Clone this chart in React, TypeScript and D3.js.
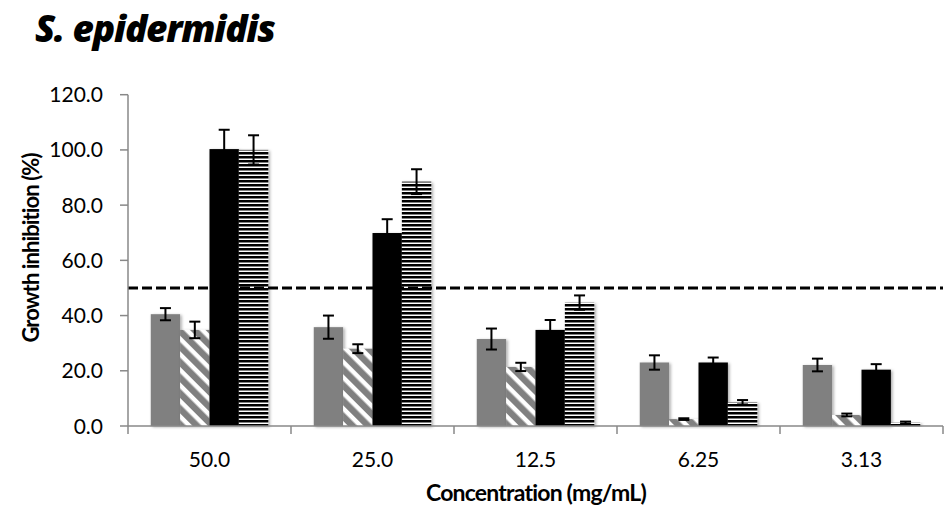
import React from "react";
import * as d3 from "d3";

const categories = ["50.0", "25.0", "12.5", "6.25", "3.13"];
const seriesKeys = ["gray", "diag", "black", "horiz"];
const grayVals = [40.5, 35.8, 31.5, 23.0, 22.1];
const grayErr = [2.2, 4.2, 3.8, 2.6, 2.3];
const diagVals = [34.8, 28.0, 21.4, 2.5, 4.0];
const diagErr = [3.0, 1.6, 1.5, 0.3, 0.5];
const blackVals = [100.3, 69.9, 34.8, 23.0, 20.4];
const blackErr = [7.0, 5.0, 3.6, 1.8, 2.0];
const horizVals = [100.0, 88.5, 44.7, 8.6, 1.2];
const horizErr = [5.3, 4.5, 2.6, 0.8, 0.4];
const yTicks = [0, 20, 40, 60, 80, 100, 120];
const threshold = 50;

const W = 947;
const H = 509;
const left = 128;
const right = 943;
const top = 94.7;
const bottom = 426;

export default function App() {
  const x = d3.scaleBand().domain(categories).range([left, right]).padding(0);
  const xi = d3
    .scaleBand()
    .domain(seriesKeys)
    .range([0, x.bandwidth()])
    .paddingInner(0)
    .paddingOuter(0.775);
  const y = d3.scaleLinear().domain([0, 120]).range([bottom, top]);
  const vals = [grayVals, diagVals, blackVals, horizVals];
  const errs = [grayErr, diagErr, blackErr, horizErr];
  const fills = ["#808080", "url(#diag)", "#000000", "url(#horiz)"];
  const axisColor = "#888888";
  const font = "Lato, 'Open Sans', sans-serif";

  return (
    <svg width={W} height={H} style={{ position: "absolute", left: 0, top: 0, background: "#fff" }}>
      <defs>
        <pattern id="diag" patternUnits="userSpaceOnUse" width="11" height="11" patternTransform="rotate(-45)">
          <rect x="0" y="0" width="11" height="11" fill="#ffffff" />
          <rect x="0" y="0" width="6.5" height="11" fill="#808080" />
        </pattern>
        <pattern id="horiz" patternUnits="userSpaceOnUse" width="4" height="4">
          <rect x="0" y="0" width="4" height="4" fill="#ffffff" />
          <rect x="0" y="0" width="4" height="2.5" fill="#000000" />
        </pattern>
        <filter id="shadow" x="-20%" y="-20%" width="150%" height="150%">
          <feDropShadow dx="1.5" dy="1" stdDeviation="1.5" floodColor="#000" floodOpacity="0.35" />
        </filter>
      </defs>
      <text
        x={35}
        y={42}
        fontFamily="'Open Sans', Lato, sans-serif"
        fontWeight={800}
        fontStyle="italic"
        fontSize={37}
        letterSpacing={-1.2}
        fill="#000"
      >
        S. epidermidis
      </text>

      {/* bars */}
      {categories.map((c, ci) =>
        seriesKeys.map((k, si) => {
          const v = vals[si][ci];
          const bx = (x(c) as number) + (xi(k) as number);
          return (
            <rect
              key={c + k}
              x={bx}
              y={y(v)}
              width={xi.bandwidth()}
              height={bottom - y(v)}
              fill={fills[si]}
              filter="url(#shadow)"
            />
          );
        })
      )}

      {/* threshold line */}
      <line
        x1={left}
        x2={right}
        y1={y(threshold)}
        y2={y(threshold)}
        stroke="#000"
        strokeWidth={3}
        strokeDasharray="10 4"
      />

      {/* error bars */}
      {categories.map((c, ci) =>
        seriesKeys.map((k, si) => {
          const v = vals[si][ci];
          const e = errs[si][ci];
          const cx = (x(c) as number) + (xi(k) as number) + xi.bandwidth() / 2;
          return (
            <g key={"e" + c + k} stroke="#000" strokeWidth={2}>
              <line x1={cx} x2={cx} y1={y(v + e)} y2={y(v - e)} />
              <line x1={cx - 5.5} x2={cx + 5.5} y1={y(v + e)} y2={y(v + e)} />
              <line x1={cx - 5.5} x2={cx + 5.5} y1={y(v - e)} y2={y(v - e)} />
            </g>
          );
        })
      )}

      {/* axes */}
      <line x1={left} x2={left} y1={top} y2={bottom} stroke={axisColor} strokeWidth={1.5} />
      <line x1={left} x2={right} y1={bottom} y2={bottom} stroke={axisColor} strokeWidth={1.5} />
      {yTicks.map((t) => (
        <g key={"yt" + t}>
          <line x1={left - 8} x2={left} y1={y(t)} y2={y(t)} stroke={axisColor} strokeWidth={1.5} />
          <text
            x={103}
            y={y(t)}
            dy="0.36em"
            textAnchor="end"
            fontFamily={font}
            fontSize={21}
            fill="#000"
          >
            {t.toFixed(1)}
          </text>
        </g>
      ))}
      {[...categories.map((c) => x(c) as number), right].map((tx, i) => (
        <line key={"xt" + i} x1={tx} x2={tx} y1={bottom} y2={bottom + 8} stroke={axisColor} strokeWidth={1.5} />
      ))}
      {categories.map((c) => (
        <text
          key={"xl" + c}
          x={(x(c) as number) + x.bandwidth() / 2}
          y={467}
          textAnchor="middle"
          fontFamily={font}
          fontSize={21}
          fill="#000"
        >
          {c}
        </text>
      ))}

      <text
        transform={`translate(39, ${248}) rotate(-90)`}
        textAnchor="middle"
        fontFamily={font}
        fontWeight="bold"
        fontSize={22}
        letterSpacing={-0.9}
        fill="#000"
      >
        Growth inhibition (%)
      </text>
      <text
        x={536}
        y={501}
        textAnchor="middle"
        fontFamily={font}
        fontWeight="bold"
        fontSize={23}
        letterSpacing={-0.8}
        fill="#000"
      >
        Concentration (mg/mL)
      </text>
    </svg>
  );
}
